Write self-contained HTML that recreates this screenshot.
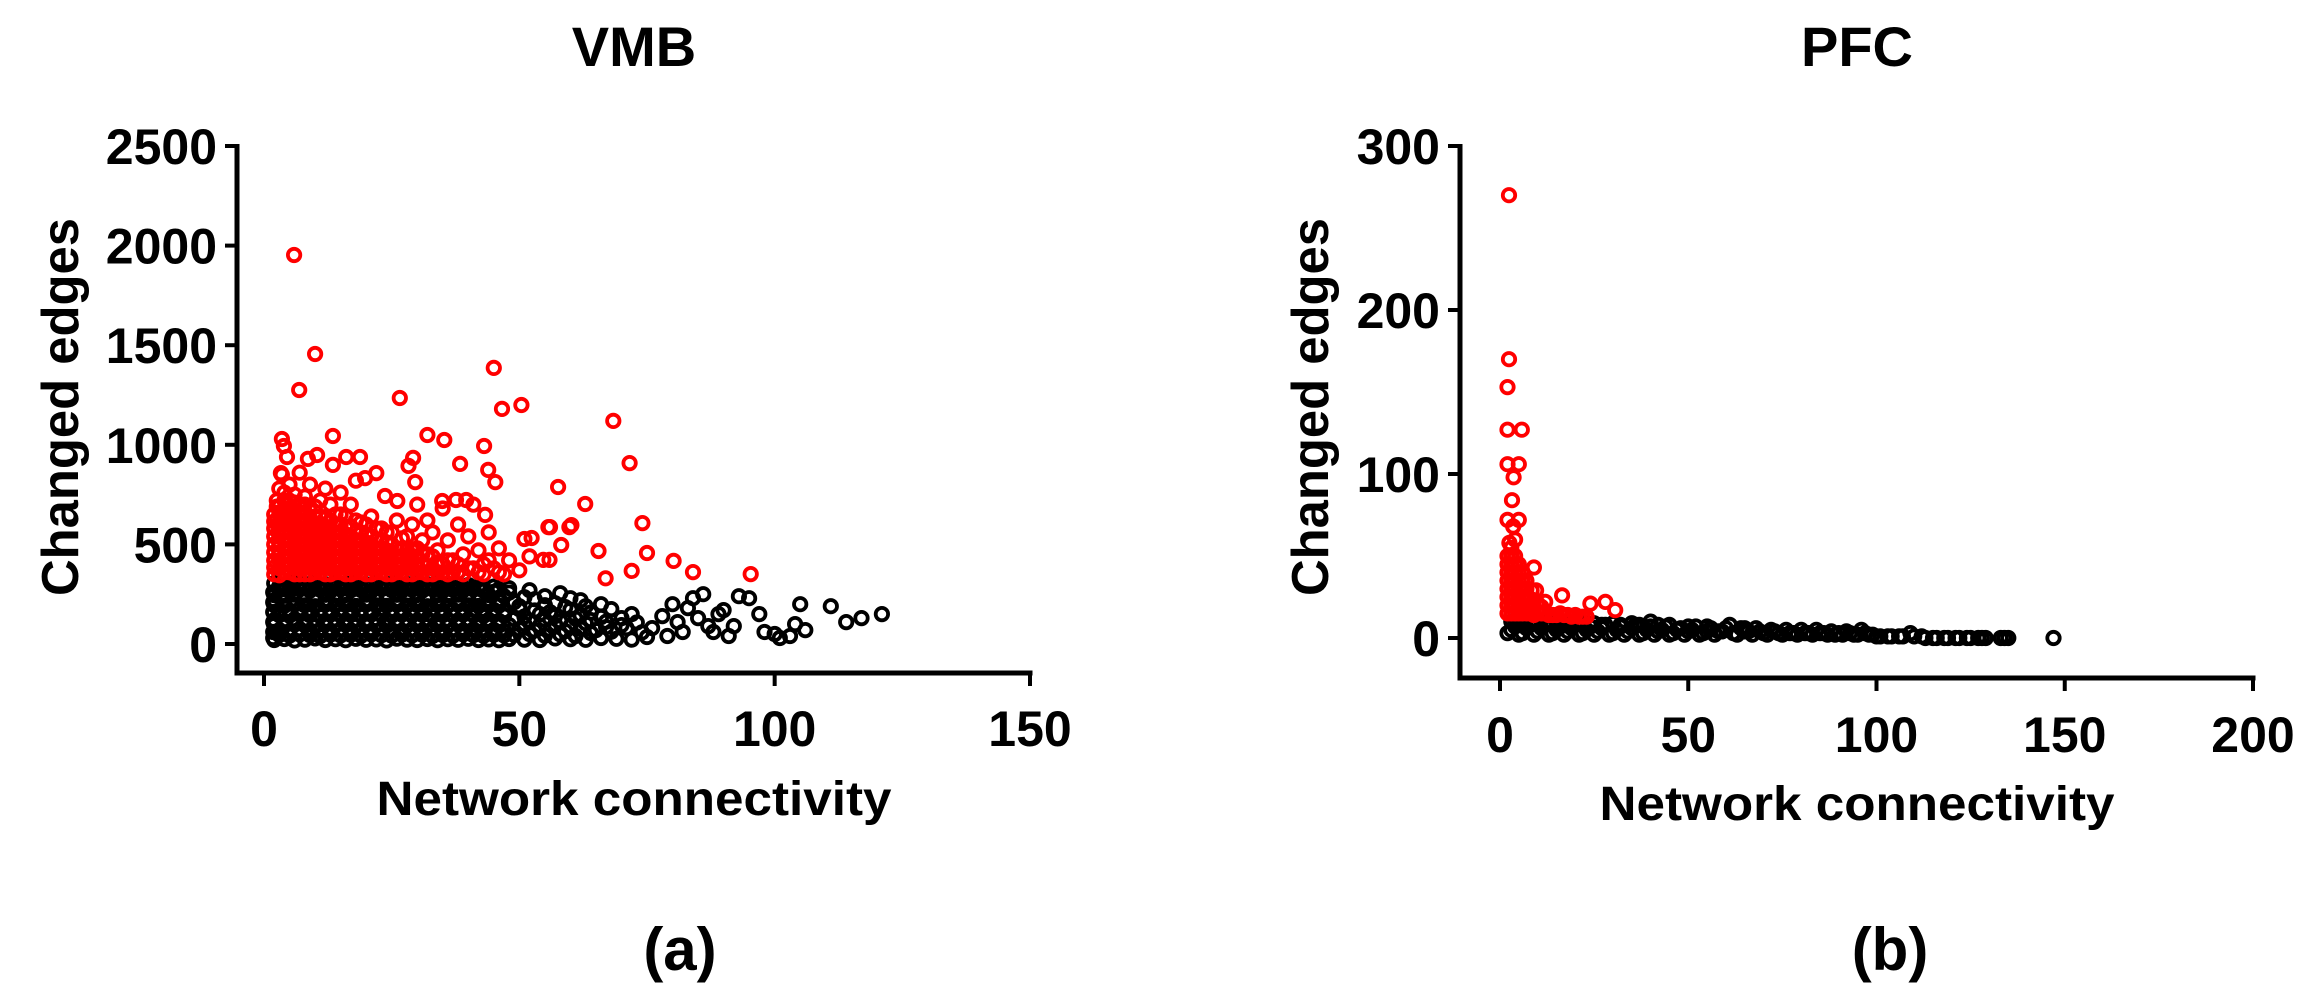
<!DOCTYPE html>
<html><head><meta charset="utf-8"><style>
html,body{margin:0;padding:0;background:#fff;}
svg{display:block;font-family:"Liberation Sans",Arial,sans-serif;font-weight:bold;}
</style></head><body>
<svg id="fig" width="2312" height="1000" viewBox="0 0 2312 1000">
<g id="pa"></g>
<g id="pb"></g>
</svg>
<script>
// ---- VMB data (network connectivity, changed edges) ----
const vmbXTicks = [0, 50, 100, 150];
const vmbYTicks = [0, 500, 1000, 1500, 2000, 2500];
const vmbBlack = [
[2,20],[4,25],[6,18],[8,22],[10,28],[12,20],[14,24],[16,19],[18,26],[20,21],[22,23],[24,18],[26,27],[28,22],[30,20],[32,25],[34,19],[36,24],[38,21],[40,26],[42,20],[44,23],[46,19],[48,25],[51,22],[54,20],[57,28],[60,24],[63,21],[66,30],[69,26],[72,22],[75,35],
[3,70],[5,65],[7,75],[9,68],[11,72],[13,66],[15,74],[17,69],[19,71],[21,65],[23,76],[25,70],[27,67],[29,73],[31,68],[33,75],[35,66],[37,72],[39,69],[41,74],[43,67],[45,71],[47,66],[50,75],[53,68],[56,72],[59,65],[62,78],[65,70],[68,62],[71,80],[74,58],
[2,120],[4,115],[6,125],[8,118],[10,122],[12,116],[14,124],[16,119],[18,121],[20,115],[22,126],[24,120],[26,117],[28,123],[30,118],[32,125],[34,116],[36,122],[38,119],[40,124],[42,117],[44,121],[46,116],[49,125],[52,118],[55,122],[58,115],[61,128],[64,120],[67,112],[70,130],[73,108],
[3,170],[5,165],[7,175],[9,168],[11,172],[13,166],[15,174],[17,169],[19,171],[21,165],[23,176],[25,170],[27,167],[29,173],[31,168],[33,175],[35,166],[37,172],[39,169],[41,174],[43,167],[45,171],[47,166],[50,175],[53,168],[56,160],[60,172],[64,158],[68,175],[72,150],
[2,220],[4,215],[6,225],[8,218],[10,222],[12,216],[14,224],[16,219],[18,221],[20,215],[22,226],[24,220],[26,217],[28,223],[30,218],[32,225],[34,216],[36,222],[38,219],[40,224],[42,217],[44,221],[46,216],[49,210],[53,225],[57,205],[62,220],[66,200],
[3,270],[5,265],[7,275],[9,268],[11,272],[13,266],[15,274],[17,269],[19,271],[21,265],[23,276],[25,270],[27,267],[29,273],[31,268],[33,275],[35,266],[37,272],[39,269],[41,274],[43,267],[45,262],[48,258],[52,270],[58,255],
[2,305],[4,300],[6,308],[8,302],[10,306],[12,300],[14,307],[16,303],[18,305],[20,300],[22,308],[24,302],[26,306],[28,301],[30,305],[32,300],[34,304],[36,302],[38,299],[40,296],[42,290],[45,288],[48,280],
[76,80],[78,140],[79,40],[80,200],[81,110],[82,60],[83,180],[84,230],[85,130],[86,250],[87,90],[88,60],[89,150],[90,170],[91,40],[92,90],[93,240],[95,230],[97,150],[98,60],[100,50],[101,30],[103,40],[104,100],[105,200],[106,70],[111,190],[114,110],[117,130],[121,150]
];
const vmbBlack2 = [
[3,45],[5,42],[7,48],[9,44],[11,40],[13,47],[15,43],[17,46],[19,41],[21,48],[23,44],[25,42],[27,47],[29,43],[31,46],[33,40],[35,45],[37,42],[39,48],[41,44],[43,41],[45,46],[47,43],[49,45],[52,50],[55,42],[58,48],[61,40],[64,55],
[2,95],[4,92],[6,98],[8,94],[10,90],[12,97],[14,93],[16,96],[18,91],[20,98],[22,94],[24,92],[26,97],[28,93],[30,96],[32,90],[34,95],[36,92],[38,98],[40,94],[42,91],[44,96],[46,93],[48,95],[51,100],[54,92],[57,98],[60,90],[63,105],[67,85],[70,95],
[3,145],[5,142],[7,148],[9,144],[11,140],[13,147],[15,143],[17,146],[19,141],[21,148],[23,144],[25,142],[27,147],[29,143],[31,146],[33,140],[35,145],[37,142],[39,148],[41,144],[43,141],[45,146],[47,143],[51,138],[54,150],[57,140],[62,145],[66,135],
[2,195],[4,192],[6,198],[8,194],[10,190],[12,197],[14,193],[16,196],[18,191],[20,198],[22,194],[24,192],[26,197],[28,193],[30,196],[32,190],[34,195],[36,192],[38,198],[40,194],[42,191],[44,196],[46,193],[50,190],[55,195],[59,185],[63,190],
[2,245],[4,242],[6,248],[8,244],[10,240],[12,247],[14,243],[16,246],[18,241],[20,248],[22,244],[24,242],[26,247],[28,243],[30,246],[32,240],[34,245],[36,242],[38,248],[40,244],[42,241],[44,246],[47,240],[51,235],[55,240],[60,230],
[3,290],[5,288],[7,292],[9,289],[11,287],[13,291],[15,288],[17,290],[19,287],[21,292],[23,289],[25,288],[27,291],[29,288],[31,290],[33,286],[35,289],[37,287],[39,285],[41,282],[43,280],[46,275],
[1.8,60],[1.8,160],[1.8,260],[1.8,30],[1.8,210],[1.8,110]
];
const vmbRed = [
[2,350],[2,420],[2,500],[2,580],[2,650],[2.5,720],[3,380],[3,460],[3,540],[3,610],[3,690],[3,780],[3.5,850],[4,360],[4,440],[4,520],[4,600],[4,680],[4,760],[5,400],[5,480],[5,560],[5,640],[5,720],[5,800],[6,350],[6,430],[6,510],[6,590],[6,670],[6,750],[7,380],[7,460],[7,540],[7,620],[7,700],[7,860],[8,350],[8,420],[8,500],[8,580],[8,660],[8,740],[9,390],[9,470],[9,550],[9,630],[9,800],[10,360],[10,440],[10,520],[10,600],[10,690],[11,400],[11,480],[11,560],[11,640],[11,720],[12,350],[12,430],[12,510],[12,590],[12,780],[13,380],[13,460],[13,540],[13,620],[13,700],[14,360],[14,440],[14,520],[14,600],[15,400],[15,480],[15,560],[15,650],[15,760],[16,350],[16,430],[16,510],[16,590],[17,380],[17,460],[17,540],[17,700],[18,360],[18,440],[18,520],[18,620],[18,820],[19,400],[19,480],[19,560],[20,350],[20,430],[20,510],[20,600],[21,380],[21,460],[21,540],[21,640],[22,360],[22,440],[22,520],[23,400],[23,480],[23,580],[24,350],[24,430],[24,510],[25,380],[25,460],[25,560],[26,360],[26,440],[26,620],[27,400],[27,480],[28,350],[28,430],[28,540],[29,380],[29,470],[29,600],[30,360],[30,440],[30,700],[31,400],[31,520],[32,350],[32,450],[32,620],[33,380],[33,560],[34,360],[34,470],[35,400],[35,680],[36,350],[36,520],[37,420],[38,360],[38,600],[39,450],[40,380],[40,540],[41,700],[42,360],[42,470],[43,400],[44,560],[45,380],[46,480],[47,350],[48,420],[50,370],[52,440],
[5.9,1953],[10,1456],[6.9,1275],[26.6,1235],[45,1386],[46.6,1180],[50.4,1200],[68.4,1120],[71.6,908],[13.5,1044],[32,1049],[35.3,1024],[43.1,994],[3.5,1029],[3.9,994],[4.5,939],[8.6,929],[10.4,949],[18.8,939],[16.1,939],[38.4,904],[29.2,934],[28.3,894],[43.9,874],[45.3,813],[29.6,813],[57.6,788],[62.9,703],[22,858],[19.8,833],[13.5,899],[3.3,858],[74.1,607],[56,587],[60.2,597],[51,527],[52.4,532],[65.5,467],[75,457],[80.2,417],[84,361],[43.3,648],[39.6,723],[37.6,723],[34.9,718],[23.7,743],[26.1,718],[58.2,497],[55.9,422],[59.8,587],[55.7,587],[54.7,422],[72,367],[95.3,351],[66.9,330]
];
const vmbRed2 = [
[2,385],[2,460],[2,540],[2,615],[2.5,690],[3,345],[3,420],[3,500],[3,575],[3,650],[4,400],[4,480],[4,560],[4,640],[4,720],[5,360],[5,440],[5,520],[5,600],[5,680],[6,390],[6,470],[6,550],[6,630],[6,710],[7,350],[7,420],[7,500],[7,580],[7,660],[8,385],[8,460],[8,540],[8,620],[8,700],[9,350],[9,430],[9,510],[9,590],[9,670],[10,400],[10,480],[10,560],[10,640],[11,360],[11,440],[11,520],[11,600],[12,390],[12,470],[12,550],[12,630],[13,350],[13,420],[13,500],[13,580],[14,400],[14,480],[14,560],[14,650],[15,360],[15,440],[15,520],[15,600],[16,390],[16,470],[16,550],[16,640],[17,350],[17,420],[17,500],[17,590],[18,400],[18,480],[18,560],[19,360],[19,440],[19,520],[19,610],[20,390],[20,470],[20,550],[21,350],[21,420],[21,500],[22,400],[22,480],[22,580],[23,360],[23,440],[23,520],[24,390],[24,470],[24,560],[25,350],[25,420],[25,500],[26,400],[26,480],[27,360],[27,440],[27,530],[28,390],[28,470],[29,350],[29,420],[30,400],[30,480],[31,360],[31,450],[32,390],[33,350],[33,440],[34,400],[35,360],[36,420],[37,360],[38,400],[39,350],[41,380],[43,350],[44,420],[46,360]
];
// ---- PFC data ----
const pfcXTicks = [0, 50, 100, 150, 200];
const pfcYTicks = [0, 100, 200, 300];
const pfcBlack = [
[2,3],[4,7],[6,3],[8,8],[10,4],[12,8],[14,3],[16,7],[18,4],[20,8],[22,3],[24,7],[26,4],[28,8],[30,3],[32,7],[34,4],[36,8],[38,3],[40,7],[42,4],[44,7],[46,3],[48,6],[50,4],[52,7],[54,3],[56,6],[58,4],[60,6],[61,8],[62,3],[64,6],[66,4],[68,6],[70,3],[72,5],[74,3],[76,5],[78,3],[80,5],[82,3],[84,5],[86,3],[88,4],[90,3],[92,4],[94,2],[96,5],[98,2],
[3,10],[5,11],[7,11],[9,10],[11,11],[13,10],[15,10],[17,9],[19,10],[25,9],[30,9],[35,9],[40,10],[45,8],
[100,1],[103,1],[106,1],[109,3],[112,1],[115,0],[118,0],[121,0],[124,0],[127,0],[129,0],[133,0],[135,0],[147,0]
];
const pfcBlack2 = [
[3,5],[5,2],[7,6],[9,2],[11,6],[13,2],[15,5],[17,2],[19,6],[21,2],[23,5],[25,2],[27,6],[29,2],[31,5],[33,2],[35,6],[37,2],[39,5],[41,2],[43,5],[45,2],[47,5],[49,2],[51,5],[53,2],[55,4],[57,2],[59,4],[63,2],[65,4],[67,2],[69,4],[71,2],[73,4],[75,2],[77,3],[79,2],[81,3],[83,2],[85,3],[87,2],[89,2],[91,2],[93,3],[95,2],[97,3],[99,2],[101,1],[104,1],[107,1],[110,1],[113,0],[116,0],[119,0],[122,0],[125,0],[128,0],[134,0],
[4,10],[6,9],[8,10],[10,9],[12,9],[14,9],[16,9],[18,9],[20,9],[22,9],[27,8],[32,8],[37,8],[42,8],[50,7],[55,7],[65,6]
];
const pfcRed = [
[2.4,270],[2.4,170],[2,153],[2,127],[5.8,127],[2,106],[5,106],[3.6,98],[3.2,84],[2,72],[5,72],[3.5,68],[2.5,58],[4,60],[9,43],[16.5,26],[24,21],[28,22],[30.6,17],[9.6,29],[8.4,29],
[2,15],[2,25],[2,35],[2,45],[3,20],[3,30],[3,40],[3,50],[4,15],[4,25],[4,35],[4,45],[5,20],[5,30],[5,40],[6,15],[6,25],[6,35],[7,20],[7,30],[8,15],[8,24],[10,16],[12,15],[12,22],[14,14],[16,15],[18,14],[20,14],[22,13]
];
const pfcRed2 = [
[2,20],[2,30],[2,40],[2,50],[3,15],[3,25],[3,35],[3,45],[3,55],[4,20],[4,30],[4,40],[4,50],[5,15],[5,25],[5,35],[5,45],[6,20],[6,30],[6,40],[7,15],[7,25],[7,35],[8,20],[9,14],[9,22],[10,21],[11,15],[11,19],[13,14],[15,14],[17,14],[19,13],[21,13],[23,13]
];

const NS = "http://www.w3.org/2000/svg";
function mk(tag, attrs, parent){ const e=document.createElementNS(NS,tag); for(const k in attrs) e.setAttribute(k,attrs[k]); parent.appendChild(e); return e; }

function panel(g, cfg){
  const sx = v => cfg.x0 + (v - cfg.xmin) / (cfg.xmax - cfg.xmin) * (cfg.x1 - cfg.x0);
  const sy = v => cfg.y0 - (v - cfg.ymin) / (cfg.ymax - cfg.ymin) * (cfg.y0 - cfg.y1);
  const drawPts = (pts, color, name) => {
    const pg = mk('g', {}, g);
    
    
    pts.forEach(p => {
      const c = mk('circle', {cx: sx(p[0]).toFixed(1), cy: sy(p[1]).toFixed(1), r: 6.2, fill: 'none', stroke: color, 'stroke-width': 3.8}, pg);
      
      
    });
  };
  drawPts(cfg.black, '#000', cfg.id + '-black');
  drawPts(cfg.red, '#ff0000', cfg.id + '-red');
  const ya = mk('line', {x1: cfg.axX, y1: cfg.y1 - 2, x2: cfg.axX, y2: cfg.axY + 2.5, stroke: '#000', 'stroke-width': 5}, g);
  
  
  const xa = mk('line', {x1: cfg.axX - 2.5, y1: cfg.axY, x2: cfg.x1 + 2.5, y2: cfg.axY, stroke: '#000', 'stroke-width': 5}, g);
  
  
  cfg.yTicks.forEach(t => {
    const y = sy(t);
    const tl = mk('line', {x1: cfg.axX - 12, y1: y, x2: cfg.axX, y2: y, stroke: '#000', 'stroke-width': 4}, g);
    
    
    const tx = mk('text', {x: cfg.axX - 20, y: y + 18, 'font-size': 50, 'text-anchor': 'end'}, g);
    
    
    tx.textContent = t;
  });
  cfg.xTicks.forEach(t => {
    const x = sx(t);
    const tl = mk('line', {x1: x, y1: cfg.axY, x2: x, y2: cfg.axY + 13, stroke: '#000', 'stroke-width': 4}, g);
    
    
    const tx = mk('text', {x: x, y: cfg.xLabY, 'font-size': 50, 'text-anchor': 'middle'}, g);
    
    
    tx.textContent = t;
  });
  const yt = mk('text', {x: 0, y: 0, 'font-size': 52, 'text-anchor': 'middle', textLength: 378, lengthAdjust: 'spacingAndGlyphs', transform: `translate(${cfg.yTitleX},407) rotate(-90)`}, g);
  
  
  yt.textContent = 'Changed edges';
  const xt = mk('text', {x: cfg.xTitleX, y: cfg.xTitleY, 'font-size': 48, 'text-anchor': 'middle', textLength: 515, lengthAdjust: 'spacingAndGlyphs'}, g);
  
  
  xt.textContent = 'Network connectivity';
  const tt = mk('text', {x: cfg.xTitleX, y: 66, 'font-size': 56, 'text-anchor': 'middle'}, g);
  
  
  tt.textContent = cfg.title;
  const lb = mk('text', {x: cfg.labX, y: 970, 'font-size': 60, 'text-anchor': 'middle'}, g);
  
  
  lb.textContent = cfg.label;
}

panel(document.getElementById('pa'), {id:'vmb', title:'VMB', label:'(a)', black:vmbBlack.concat(vmbBlack2), red:vmbRed.concat(vmbRed2),
  xTicks:vmbXTicks, yTicks:vmbYTicks, xmin:0, xmax:150, ymin:0, ymax:2500,
  x0:264, x1:1030, y0:644, y1:146, axX:237, axY:673, xLabY:746, yTitleX:78, xTitleX:634, xTitleY:815, labX:680});
panel(document.getElementById('pb'), {id:'pfc', title:'PFC', label:'(b)', black:pfcBlack.concat(pfcBlack2), red:pfcRed.concat(pfcRed2),
  xTicks:pfcXTicks, yTicks:pfcYTicks, xmin:0, xmax:200, ymin:0, ymax:300,
  x0:1500, x1:2253, y0:638, y1:146, axX:1460, axY:678, xLabY:752, yTitleX:1328, xTitleX:1857, xTitleY:820, labX:1890});
</script>
</body></html>
